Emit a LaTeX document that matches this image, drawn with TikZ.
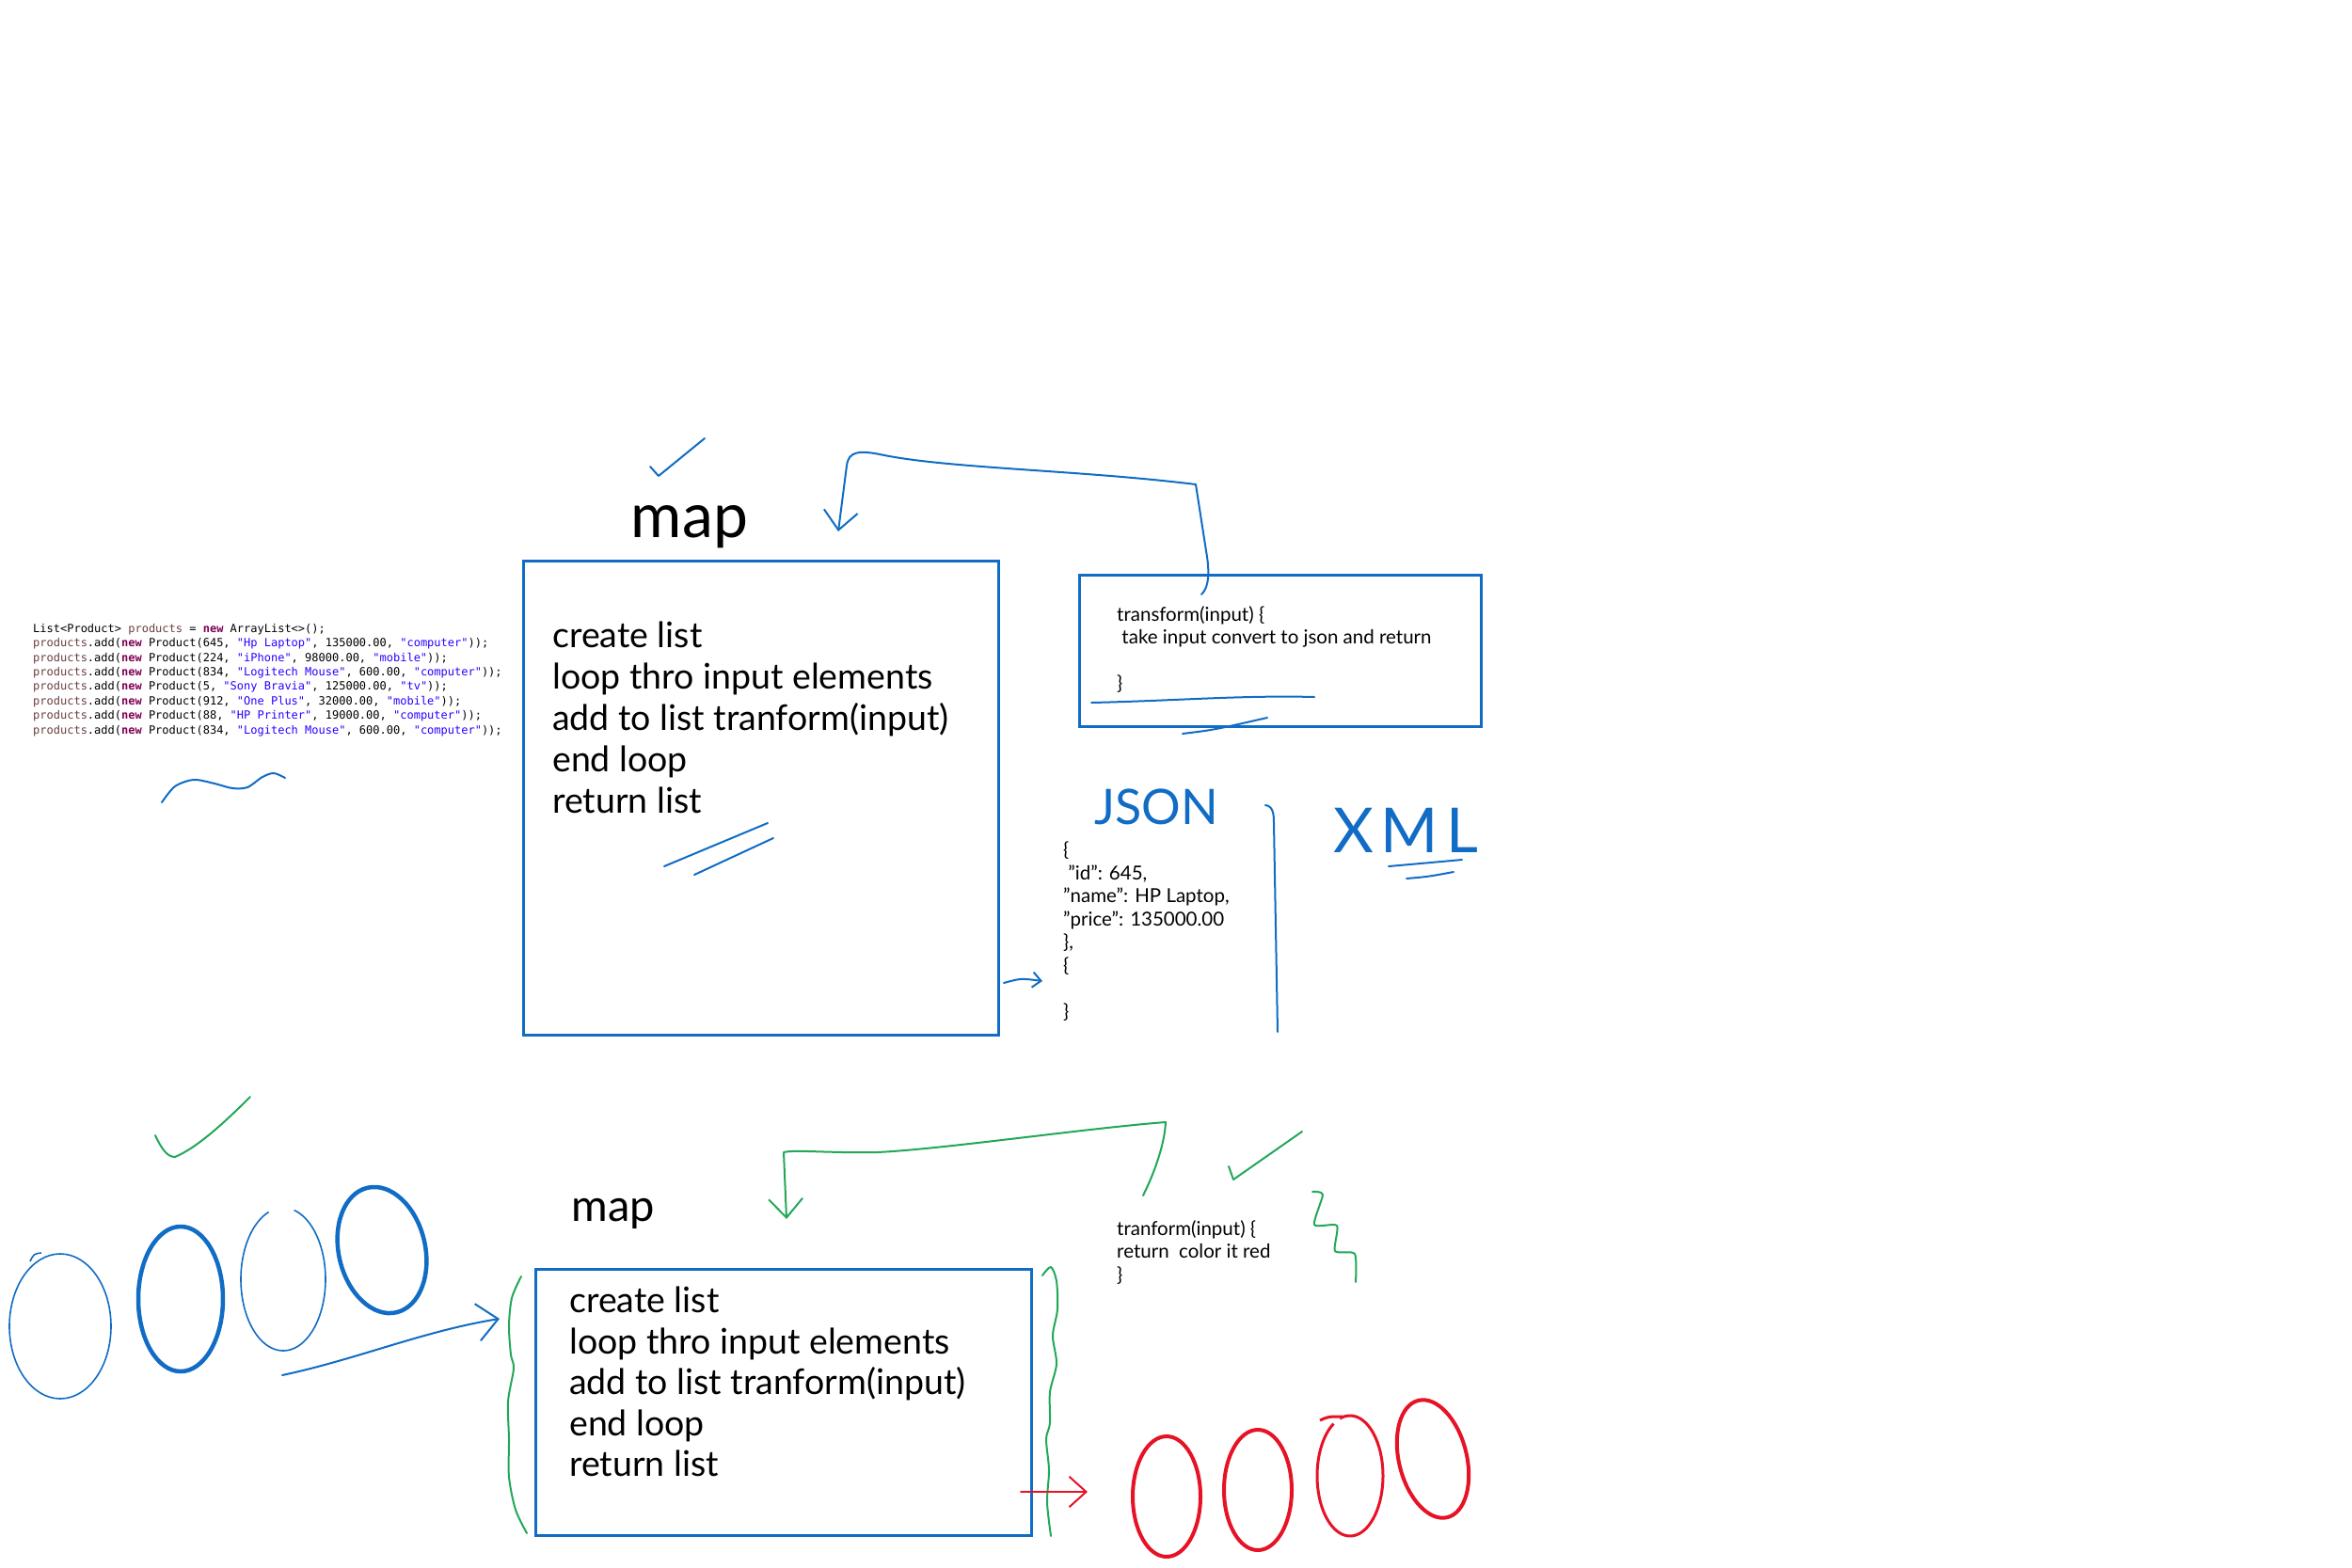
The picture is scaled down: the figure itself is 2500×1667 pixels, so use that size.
\documentclass[tikz,border=0pt]{standalone}
\usepackage{fontspec}
\setmainfont{Lato}
\setmonofont{DejaVu Sans Mono}
\usetikzlibrary{arrows.meta, positioning, calc}

\definecolor{inkblue}  {RGB}{ 16, 108, 196}
\definecolor{inkgreen} {RGB}{ 34, 168,  88}
\definecolor{inkred}   {RGB}{230,  18,  38}
\definecolor{codevar}  {RGB}{106,  62,  62}
\definecolor{codekey}  {RGB}{127,   0,  85}
\definecolor{codestr}  {RGB}{ 42,   0, 255}

\newcommand{\cvar}{\textcolor{codevar}{products}}
\newcommand{\ckey}{\textcolor{codekey}{\bfseries new}}
\newcommand{\cstr}[1]{\textcolor{codestr}{"#1"}}
\newcommand{\addprod}[4]{\cvar.add(\ckey{} Product(#1, \cstr{#2}, #3, \cstr{#4}));}

\begin{document}
\begin{tikzpicture}[x=1pt, y=-1pt,
	boxline/.style={draw=inkblue, line width=3pt, inner sep=0pt},
	hand/.style={line width=2pt, line cap=round, line join=round},
	steps/.style={align=left, inner sep=0pt, font=\fontsize{37.5}{44}\selectfont},
	note/.style={align=left, inner sep=0pt, font=\fontsize{20.5}{24.5}\selectfont},
	barb/.style={-{Straight Barb[length=#1, width=1.8*#1]}}]
	\useasboundingbox (0,0) rectangle (2500,1667);

	% java list on the left
	\node[anchor=north west, align=left, inner sep=0pt,
		font=\ttfamily\fontsize{12}{15.4}\selectfont] (code) at (35,663)
		{List<Product> \cvar{} = \ckey{} ArrayList<>();\\
		\addprod{645}{Hp Laptop}{135000.00}{computer}\\
		\addprod{224}{iPhone}{98000.00}{mobile}\\
		\addprod{834}{Logitech Mouse}{600.00}{computer}\\
		\addprod{5}{Sony Bravia}{125000.00}{tv}\\
		\addprod{912}{One Plus}{32000.00}{mobile}\\
		\addprod{88}{HP Printer}{19000.00}{computer}\\
		\addprod{834}{Logitech Mouse}{600.00}{computer}};
	\draw[inkblue, hand] plot[smooth] coordinates {(172,853) (186,836) (206,829) (228,833) (247,838) (263,837) (279,826) (291,822) (303,827)};

	% first map
	\draw[inkblue, hand] (691,496) -- (700,506) -- (749,466);
	\node[font=\fontsize{66}{66}\selectfont, inner sep=0pt] (map1) at (733,560) {map};
	\node[boxline, anchor=north west, minimum width=505pt, minimum height=504pt] (box1) at (555,595) {};
	\node[steps, anchor=north west] (steps1) at (587,661)
		{create list\\loop thro input elements\\add to list tranform(input)\\end loop\\return list};
	\draw[inkblue, hand] (706,921) -- (816,875);
	\draw[inkblue, hand] (738,930) -- (822,891);

	\node[boxline, anchor=north west, minimum width=427pt, minimum height=161pt] (tbox1) at (1146,610) {};
	\node[note, anchor=north west] (tcode1) at (1187,644)
		{transform(input) \{\\\ take input convert to json and return\\[24.5pt]\}};
	\draw[inkblue, hand] (1160,747) .. controls (1250,745) and (1320,739) .. (1397,741);
	\draw[inkblue, hand] (1257,780) .. controls (1290,776) .. (1347,763);

	\coordinate (t1in) at (1277,632);
	\coordinate (t1tip) at (891,565);
	\draw[inkblue, hand, barb=20pt] (t1in) .. controls (1286,624) and (1285,605) .. (1283,592)
		-- (1271,515) .. controls (1150,500) and (1010,498) .. (940,484)
		.. controls (912,478) and (902,480) .. (900,495) -- (t1tip);

	\coordinate (j1) at (1067,1045);
	\coordinate (j2) at (1108,1043);
	\draw[inkblue, hand, barb=9pt] (j1) .. controls (1085,1040) .. (j2);

	% json / xml
	\node[inkblue, inner sep=0pt, font=\fontsize{52}{52}\selectfont] (jsonlbl) at (1229,858) {JSON};
	\node[note, anchor=north west] (json) at (1130,895)
		{\{\\\ "id": 645,\\"name": HP Laptop,\\"price": 135000.00\\\},\\\{\\[24.4pt]\}};
	\draw[inkblue, hand] (1345,856) .. controls (1353,857) and (1354,865) .. (1354,875) -- (1358,1097);
	\node[inkblue, inner sep=0pt, anchor=base, font=\fontsize{66}{66}\selectfont] (xmllbl) at (1494,906)
		{\addfontfeature{LetterSpace=12}XML};
	\draw[inkblue, hand] (1476,921) .. controls (1510,918) .. (1554,914);
	\draw[inkblue, hand] (1495,934) .. controls (1518,932) .. (1545,927);

	% second map
	\draw[inkgreen, hand] (165,1207) .. controls (172,1222) and (178,1230) .. (186,1230)
		.. controls (210,1220) and (240,1192) .. (266,1166);
	\draw[inkblue, line width=1.6pt] (64,1410) ellipse [x radius=54pt, y radius=77pt];
	\draw[inkblue, line width=1.6pt] (44,1332) .. controls (36,1333) .. (32,1341);
	\draw[inkblue, line width=4.5pt] (192,1381) ellipse [x radius=45pt, y radius=77pt];
	\draw[inkblue, line width=1.6pt] plot[domain=285:610, samples=80, smooth] ({301+45*cos(\x)}, {1360+76*sin(\x)});
	\draw[inkblue, line width=4.5pt, rotate around={13:(406,1329)}] (406,1329) ellipse [x radius=46pt, y radius=68pt];

	\coordinate (o1) at (300,1462);
	\coordinate (o2) at (531,1402);
	\draw[inkblue, hand, barb=22pt] (o1) .. controls (380,1445) and (450,1415) .. (o2);

	\node[font=\fontsize{47}{47}\selectfont, inner sep=0pt] (map2) at (652,1290) {map};
	\node[boxline, anchor=north west, minimum width=527pt, minimum height=283pt] (box2) at (568,1348) {};
	\node[steps, anchor=north west, font=\fontsize{37.5}{43.5}\selectfont] (steps2) at (605,1368)
		{create list\\loop thro input elements\\add to list tranform(input)\\end loop\\return list};
	\draw[inkgreen, hand] plot[smooth] coordinates {(554,1357) (544,1380) (541,1410) (543,1440) (546,1455) (540,1490) (541,1530) (541,1570) (548,1605) (560,1630)};
	\draw[inkgreen, hand] plot[smooth] coordinates {(1108,1356) (1117,1347) (1123,1362) (1124,1392) (1119,1420) (1123,1450) (1116,1480) (1116,1513) (1112,1530) (1115,1563) (1113,1597) (1117,1633)};

	\node[note, anchor=north west] (tcode2) at (1187,1297)
		{tranform(input) \{\\return\ \ color it red\\\}};
	\coordinate (t2in) at (1215,1271);
	\coordinate (t2tip) at (836,1296);
	\draw[inkgreen, hand, barb=20pt] (t2in) .. controls (1228,1245) and (1238,1215) .. (1239,1193)
		.. controls (1150,1200) and (1000,1222) .. (932,1225)
		.. controls (880,1226) and (845,1222) .. (833,1225) -- (t2tip);
	\draw[inkgreen, hand] (1306,1240) -- (1311,1254) -- (1384,1203);
	\draw[inkgreen, hand] plot[smooth, tension=0.4] coordinates {(1395,1267) (1406,1270) (1397,1302) (1421,1303) (1419,1330) (1440,1333) (1441,1363)};

	% coloured red
	\coordinate (r1) at (1085,1586);
	\coordinate (r2) at (1156,1586);
	\draw[inkred, hand, barb=18pt] (r1) -- (r2);
	\foreach \cx/\cy/\rot in {1240/1591/0, 1337/1584/0, 1523/1551/14}
		\draw[inkred, line width=4pt, rotate around={\rot:(\cx,\cy)}] (\cx,\cy) ellipse [x radius=36pt, y radius=64pt];
	\draw[inkred, line width=3pt] (1403,1510) .. controls (1412,1506) .. (1426,1506)
		-- plot[domain=255:600, samples=80, smooth] ({1435+35*cos(\x)}, {1569+64*sin(\x)});
\end{tikzpicture}
\end{document}
